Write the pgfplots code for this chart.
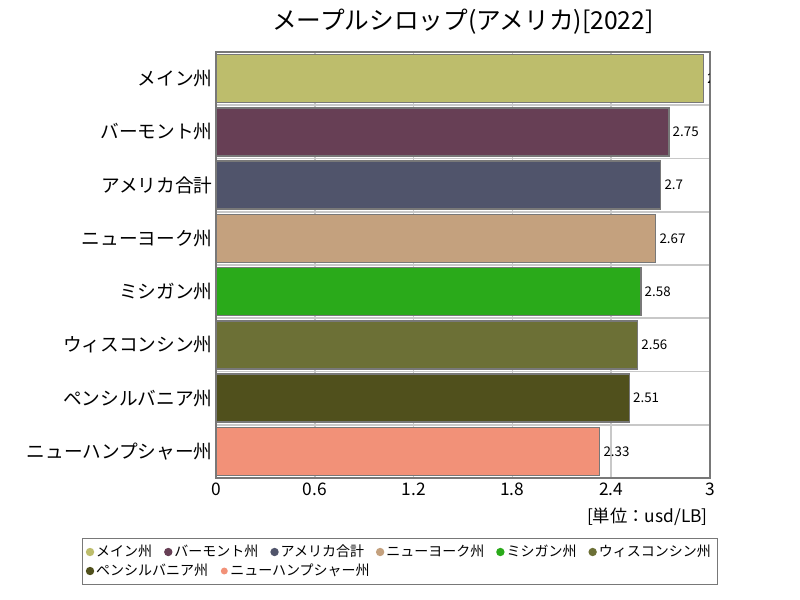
\documentclass[border=0pt]{standalone}
\usepackage{fontspec}
\setmainfont{Noto Sans CJK JP}
\usepackage{pgfplots}
\pgfplotsset{compat=1.18}
\definecolor{cMaine}{RGB}{189,189,108}
\definecolor{cVermont}{RGB}{103,63,85}
\definecolor{cUSA}{RGB}{80,84,107}
\definecolor{cNY}{RGB}{196,161,126}
\definecolor{cMich}{RGB}{42,170,26}
\definecolor{cWisc}{RGB}{108,112,54}
\definecolor{cPenn}{RGB}{80,80,28}
\definecolor{cNH}{RGB}{242,145,120}
\definecolor{frame}{RGB}{120,120,120}
\definecolor{gridc}{RGB}{200,200,200}
\begin{document}
\begin{tikzpicture}
\path[use as bounding box, fill=white] (0,0) rectangle (600pt,450pt);
\begin{axis}[
 at={(162pt,91.5pt)}, anchor=south west,
 scale only axis, width=370.5pt, height=319.5pt,
 xmin=0, xmax=3, ymin=-0.5, ymax=7.5,
 clip marker paths=true,
 xtick={0,0.6,1.2,1.8,2.4,3},
 xticklabels={0,0.6,1.2,1.8,2.4,3},
 ytick={0,1,2,3,4,5,6,7},
 yticklabels={ニューハンプシャー州,ペンシルバニア州,ウィスコンシン州,ミシガン州,ニューヨーク州,アメリカ合計,バーモント州,メイン州},
 minor ytick={0.5,1.5,2.5,3.5,4.5,5.5,6.5},
 yminorgrids, xmajorgrids, ymajorgrids=false,
 major tick length=0pt, minor tick length=0pt,
 major grid style={draw=gridc, line width=1.2pt},
 minor grid style={draw=gridc, line width=1.2pt},
 axis line style={draw=frame, line width=1.2pt},
 xticklabel style={font=\fontsize{13}{15}\selectfont},
 yticklabel style={font=\fontsize{14}{16}\selectfont, xshift=1pt},
 /pgf/number format/assume math mode=true,
 title={メープルシロップ(アメリカ)[2022]},
 title style={font=\fontsize{18.5}{20}\selectfont, yshift=4pt},
 legend columns=6,
 legend cell align=left,
 legend style={at={(0.3725,-0.196)}, anchor=center, draw=frame, line width=1pt,
   font=\fontsize{10.5}{12}\selectfont, inner xsep=3pt, inner ysep=3pt,
   /tikz/every odd column/.append style={column sep=0pt},
   /tikz/every even column/.append style={column sep=7.5pt}},
]
\pgfplotsset{bar style/.style={xbar, bar shift=0pt, bar width=0.9, draw=frame, line width=1.2pt, forget plot,
 nodes near coords,
 nodes near coords style={font=\fontsize{10}{12}\selectfont, text=black, anchor=west, xshift=-1pt, /pgf/number format/fixed, /pgf/number format/precision=2}}}
\addplot[bar style, fill=cMaine] coordinates {(2.96,7)};
\addplot[bar style, fill=cVermont] coordinates {(2.75,6)};
\addplot[bar style, fill=cUSA] coordinates {(2.7,5)};
\addplot[bar style, fill=cNY] coordinates {(2.67,4)};
\addplot[bar style, fill=cMich] coordinates {(2.58,3)};
\addplot[bar style, fill=cWisc] coordinates {(2.56,2)};
\addplot[bar style, fill=cPenn] coordinates {(2.51,1)};
\addplot[bar style, fill=cNH] coordinates {(2.33,0)};
\addlegendimage{only marks, mark=*, mark size=2.6pt, color=cMaine}
\addlegendentry{メイン州}
\addlegendimage{only marks, mark=*, mark size=2.6pt, color=cVermont}
\addlegendentry{バーモント州}
\addlegendimage{only marks, mark=*, mark size=2.6pt, color=cUSA}
\addlegendentry{アメリカ合計}
\addlegendimage{only marks, mark=*, mark size=2.6pt, color=cNY}
\addlegendentry{ニューヨーク州}
\addlegendimage{only marks, mark=*, mark size=2.6pt, color=cMich}
\addlegendentry{ミシガン州}
\addlegendimage{only marks, mark=*, mark size=2.6pt, color=cWisc}
\addlegendentry{ウィスコンシン州}
\addlegendimage{only marks, mark=*, mark size=2.6pt, color=cPenn}
\addlegendentry{\makebox[0pt][l]{ペンシルバニア州}}
\addlegendimage{legend image code/.code={\path[draw=none,fill=none] (0.3cm,0) circle (2.6pt); \fill[cNH,draw=none,overlay] ([xshift=42pt]0.3cm,0) circle (2.6pt);}}
\addlegendentry{\makebox[0pt][l]{\hspace{42pt}ニューハンプシャー州}}
\end{axis}
\node[anchor=east, font=\fontsize{13}{15}\selectfont, inner sep=0pt] at (531pt,62.5pt) {[単位：usd/LB]};
\end{tikzpicture}
\end{document}
